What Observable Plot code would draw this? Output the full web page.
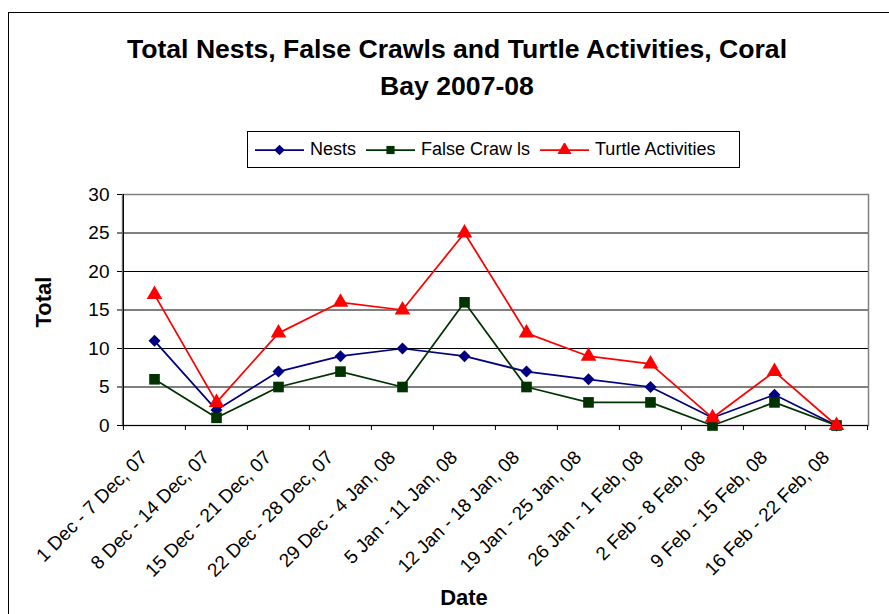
<!DOCTYPE html>
<html>
<head>
<meta charset="utf-8">
<script src="https://cdn.jsdelivr.net/npm/d3@7"></script>
<script src="https://cdn.jsdelivr.net/npm/@observablehq/plot@0.6"></script>
<style>
  html, body { margin: 0; padding: 0; background: #fff; }
  #wrap { position: relative; width: 889px; height: 614px; overflow: hidden; background: #fff;
          font-family: "Liberation Sans", Arial, Helvetica, sans-serif; color: #000; }
  #border { position: absolute; left: 8px; top: 12px; width: 1000px; height: 1000px;
            border-left: 1px solid #000; border-top: 1px solid #000; }
  #title { position: absolute; left: 0; top: 31px; width: 914px; text-align: center;
           font-weight: bold; font-size: 26.6px; line-height: 37px; }
  #chart { position: absolute; left: 0; top: 0; }
  #legend { position: absolute; left: 247px; top: 131px; width: 484px; height: 35px;
            border: 1px solid #000; display: flex; align-items: center; padding-left: 7px;
            box-sizing: content-box; font-size: 18px; background: #fff; }
  .item { display: flex; align-items: center; margin-right: 10px; white-space: pre; }
  .item svg { margin-right: 6px; }
  #ylab { position: absolute; left: 44px; top: 302px; transform: translate(-50%, -50%) rotate(-90deg);
          font-weight: bold; font-size: 22px; line-height: 22px; white-space: nowrap; }
  #xlab { position: absolute; left: 464px; top: 587px; transform: translateX(-50%);
          font-weight: bold; font-size: 22px; line-height: 22px; white-space: nowrap; }
</style>
</head>
<body>
<div id="wrap">
  <div id="border"></div>
  <div id="chart"></div>
  <div id="title"></div>
  <div id="legend"></div>
  <div id="ylab"></div>
  <div id="xlab"></div>
</div>
<script>
const titleLines = ["Total Nests, False Crawls and Turtle Activities, Coral", "Bay 2007-08"];
const yTitle = "Total";
const xTitle = "Date";
const categories = [
  "1 Dec - 7 Dec, 07", "8 Dec - 14 Dec, 07", "15 Dec - 21 Dec, 07", "22 Dec - 28 Dec, 07",
  "29 Dec - 4 Jan, 08", "5 Jan - 11 Jan, 08", "12 Jan - 18 Jan, 08", "19 Jan - 25 Jan, 08",
  "26 Jan - 1 Feb, 08", "2 Feb - 8 Feb, 08", "9 Feb - 15 Feb, 08", "16 Feb - 22 Feb, 08"
];
const nests = [11, 2, 7, 9, 10, 9, 7, 6, 5, 1, 4, 0];
const falseCrawls = [6, 1, 5, 7, 5, 16, 5, 3, 3, 0, 3, 0];
const turtleActivities = [17, 3, 12, 16, 15, 25, 12, 9, 8, 1, 7, 0];
const yTicks = [0, 5, 10, 15, 20, 25, 30];

const seriesNames = ["Nests", "False Craw ls", "Turtle Activities"];
const seriesValues = [nests, falseCrawls, turtleActivities];
const seriesColors = ["#000080", "#003300", "#ff0000"];
const seriesSymbols = ["diamond2", "square", "triangle"];
const seriesR = [5.4, 6.0, 5.8];

const W = 889, H = 614, ML = 122, MR = 21, MT = 194, MB = 189;
const bw = (W - ML - MR) / categories.length;

const tables = seriesValues.map(vals => categories.map((c, i) => ({cat: c, value: vals[i]})));

const marks = [
  Plot.ruleY([5, 10, 15, 20, 25], {stroke: "#000", strokeWidth: 1}),
  Plot.frame({stroke: "#808080", strokeWidth: 1.5}),
  Plot.ruleY([0], {stroke: "#000", strokeWidth: 1.2}),
  Plot.ruleX([categories[0]], {dx: -bw / 2, stroke: "#000", strokeWidth: 1.2}),
  Plot.ruleX(categories, {dx: -bw / 2, y1: 0, y2: 0, insetBottom: -5, stroke: "#000"}),
  Plot.ruleX([categories[categories.length - 1]], {dx: bw / 2, y1: 0, y2: 0, insetBottom: -5, stroke: "#000"}),
  Plot.axisY({ticks: yTicks, tickSize: 5, tickPadding: 8, fontSize: 19, label: null, stroke: "#000"}),
  Plot.axisX({tickSize: 0, tickPadding: 0, tickRotate: -45, textAnchor: "end", lineAnchor: "bottom",
              dx: -6, dy: 33, fontSize: 19, label: null})
];
tables.forEach((t, k) => {
  marks.push(Plot.line(t, {x: "cat", y: "value", stroke: seriesColors[k], strokeWidth: 1.75}));
  marks.push(Plot.dot(t, {x: "cat", y: "value", symbol: seriesSymbols[k], r: seriesR[k],
                          fill: seriesColors[k], stroke: "none"}));
});

const chart = Plot.plot({
  width: W, height: H,
  marginLeft: ML, marginRight: MR, marginTop: MT, marginBottom: MB,
  style: {fontFamily: '"Liberation Sans", Arial, sans-serif', color: "#000", background: "transparent", overflow: "visible"},
  x: {type: "band", domain: categories, padding: 0, axis: null},
  y: {domain: [0, 30], axis: null},
  marks
});
document.getElementById("chart").appendChild(chart);

document.getElementById("title").innerHTML = titleLines.join("<br>");
document.getElementById("ylab").textContent = yTitle;
document.getElementById("xlab").textContent = xTitle;

const legend = document.getElementById("legend");
const ns = "http://www.w3.org/2000/svg";
const legendR = [4.8, 4.6, 5.2];
seriesNames.forEach((name, k) => {
  const item = document.createElement("div");
  item.className = "item";
  const svg = document.createElementNS(ns, "svg");
  svg.setAttribute("width", 49); svg.setAttribute("height", 14);
  const ln = document.createElementNS(ns, "line");
  ln.setAttribute("x1", 0); ln.setAttribute("x2", 49); ln.setAttribute("y1", 7); ln.setAttribute("y2", 7);
  ln.setAttribute("stroke", seriesColors[k]); ln.setAttribute("stroke-width", 1.75);
  svg.appendChild(ln);
  const sym = d3.symbol(k === 0 ? d3.symbolDiamond2 : k === 1 ? d3.symbolSquare : d3.symbolTriangle,
                        Math.PI * legendR[k] * legendR[k]);
  const p = document.createElementNS(ns, "path");
  p.setAttribute("d", sym());
  p.setAttribute("transform", "translate(24.5,7)");
  p.setAttribute("fill", seriesColors[k]);
  svg.appendChild(p);
  item.appendChild(svg);
  const span = document.createElement("span");
  span.textContent = name;
  item.appendChild(span);
  legend.appendChild(item);
});
</script>
</body>
</html>
